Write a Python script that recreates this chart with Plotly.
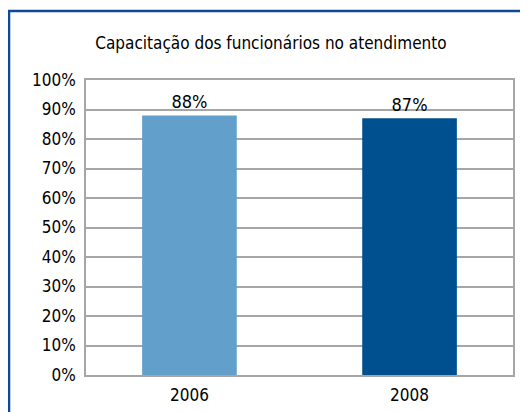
import plotly.graph_objects as go

anos = ["2006", "2008"]
valores = [88, 87]
cores = ["#62a0cb", "#00508f"]
rotulos = ["88%", "87%"]
ticks_y = list(range(0, 101, 10))

fonte = "DejaVu Sans Condensed, Liberation Sans Narrow, sans-serif"

fig = go.Figure()
fig.add_trace(go.Bar(
    x=anos,
    y=valores,
    marker=dict(color=cores, line=dict(width=0)),
    width=0.43,
    text=rotulos,
    textposition="outside",
    textfont=dict(family=fonte, size=18, color="black"),
    cliponaxis=False,
))

# a pagina tem 8px de margem no body, por isso tudo vai 8px para cima/esquerda
fig.update_layout(
    width=528,
    height=412,
    margin=dict(l=78, r=23, t=72, b=45),
    paper_bgcolor="white",
    plot_bgcolor="white",
    showlegend=False,
    title=dict(
        text="Capacitação dos funcionários no atendimento",
        font=dict(family=fonte, size=17, color="black"),
        x=0.498, xanchor="center", y=0.915, yanchor="middle",
    ),
    font=dict(family=fonte, size=17, color="black"),
    xaxis=dict(
        type="category",
        range=[-0.47, 1.47],
        showline=True, linecolor="#a6a6a6", linewidth=1.5, mirror=True,
        ticks="outside", ticklen=4, tickcolor="white", showgrid=False,
        tickfont=dict(family=fonte, size=17, color="black"),
    ),
    yaxis=dict(
        range=[0, 100],
        tickvals=ticks_y,
        ticktext=[f"{v}%" for v in ticks_y],
        showgrid=True, gridcolor="#a6a6a6", gridwidth=1.5,
        showline=True, linecolor="#a6a6a6", linewidth=1.5, mirror=True,
        ticks="outside", ticklen=5, tickcolor="white",
        tickfont=dict(family=fonte, size=17, color="black"),
        zeroline=False,
    ),
    shapes=[dict(
        type="rect", xref="paper", yref="paper",
        x0=-0.1803, x1=1.2, y0=-0.3, y1=1.234,
        line=dict(color="#0d4a93", width=2.5),
        fillcolor="rgba(0,0,0,0)", layer="above",
    )],
)

fig.write_html("out.html")
